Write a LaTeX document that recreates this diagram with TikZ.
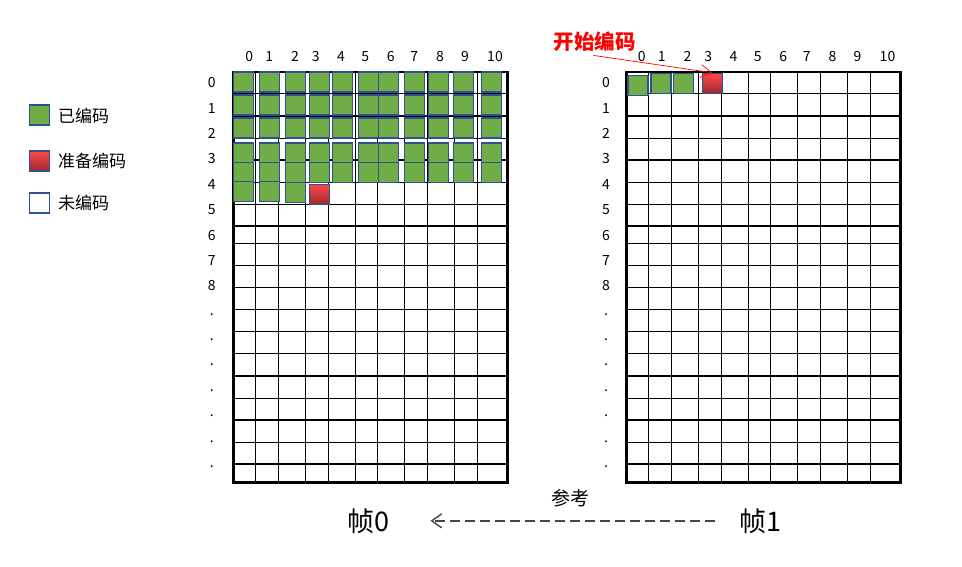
\documentclass[tikz,border=0pt]{standalone}
\usepackage{fontspec}
\setmainfont{Noto Sans CJK SC}
\usepackage{tikz}
\usetikzlibrary{arrows.meta}

\definecolor{codegreen}{HTML}{70AD47}
\definecolor{edgeblue}{HTML}{2F528F}
\definecolor{hotred}{HTML}{FF4848}
\definecolor{darkred}{HTML}{9C2A30}

\begin{document}
\begin{tikzpicture}[
  x=1pt, y=-1pt,
  every node/.style={font=\fontsize{14}{16}\selectfont},
  done/.style={draw=edgeblue, line width=1.1pt, fill=codegreen,
               minimum size=20pt, inner sep=0pt},
  ready/.style={done, top color=hotred, bottom color=darkred},
  todo/.style={done, fill=white},
  lab/.style={font=\fontsize{17}{19}\selectfont, anchor=west, inner sep=0pt},
  thingrid/.style={line width=1.2pt},
  gridframe/.style={line width=2.6pt},
]
  \useasboundingbox (0,0) rectangle (962,566);

  % Grids: frame 0 at offset 0, frame 1 at offset 393
  \foreach \ox in {0, 393} {
    \foreach \x in {22.2, 45.2, 71.8, 95.2, 121.8, 144.2, 170.8, 193.8, 220.8, 244.2}
      \draw[thingrid] (233.5+\ox+\x, 72) -- (233.5+\ox+\x, 482.5);
    \foreach \y in {93.3, 116, 138.3, 160, 182.7, 204.3, 226, 243.3, 265.7, 287.7,
                    309.3, 331.7, 353.3, 376, 398.3, 420, 442.3, 464}
      \draw[thingrid] (233.5+\ox, \y) -- (507.3+\ox, \y);
    \draw[gridframe] (233.5+\ox, 72) rectangle (507.3+\ox, 482.5);
  }

  % Column labels
  \foreach \c/\x in {0/249.3, 1/269.3, 2/295, 3/315.7, 4/341, 5/365.3,
                     6/390.7, 7/414.3, 8/440, 9/465, 10/495} {
    \node (ca\c) at (\x, 56.7) {\c};
    \node (cb\c) at (\x+392.5, 56.7) {\c};
  }

  % Row labels
  \foreach \r in {0,...,8} {
    \node (ra\r) at (211.7, 82.7+25.4*\r) {\r};
    \node (rb\r) at (606, 82.7+25.4*\r) {\r};
  }
  \foreach \k in {0,...,6} {
    \node (da\k) at (211.7, 314.3+25.4*\k) {.};
    \node (db\k) at (606, 314.3+25.4*\k) {.};
  }

  % Frame 0: coded blocks
  \foreach \c/\x in {0/243.3, 1/269.3, 2/295.3, 3/319.3, 4/342.3, 5/368.3,
                     6/388.3, 7/414.3, 8/438.3, 9/463.3, 10/491.3}
    \foreach \r/\y in {0/82, 1/105, 2/128, 3/153, 4/172.5}
      \node[done] (a\r-\c) at (\x, \y) {};
  \node[done] (a5-0) at (243.3, 191.7) {};
  \node[done] (a5-1) at (269.3, 191.7) {};
  \node[done] (a5-2) at (295.3, 192.7) {};
  \node[ready] (a5-3) at (319.7, 194.3) {};

  % Frame 1: coded blocks
  \node[done] (b0-0) at (638, 85.3) {};
  \node[done] (b0-1) at (661, 83.3) {};
  \node[done] (b0-2) at (683.3, 83.3) {};
  \node[ready] (b0-3) at (712.3, 83.3) {};

  \node[font=\fontsize{20.5}{22}\selectfont\bfseries, text=red] (start) at (594.5, 42) {开始编码};
  \draw[-{Straight Barb[length=11pt, width=13pt]}, red, line width=0.7pt]
    ([xshift=-1pt]start.south) -- (b0-3.north);

  % Legend
  \node[done] (kdone) at (39.2, 115) {};
  \node[ready] (kready) at (39.2, 161) {};
  \node[todo] (ktodo) at (39.2, 203) {};
  \node[lab] (tdone) at (58, 116) {已编码};
  \node[lab] (tready) at (58, 161) {准备编码};
  \node[lab] (ttodo) at (58, 203) {未编码};

  % Frames and reference arrow
  \node[font=\fontsize{27}{29}\selectfont] (f0) at (368, 520.8) {帧0};
  \node[font=\fontsize{27}{29}\selectfont] (f1) at (760, 520.8) {帧1};
  \draw[-{Straight Barb[length=10pt, width=14pt]}, black!72, line width=1.4pt,
        dash pattern=on 10pt off 5pt, shorten <=20pt, shorten >=38pt]
    (f1.west) -- (f0.east)
    node[pos=0.48, above=10pt, font=\fontsize{19}{21}\selectfont, text=black] (ref) {参考};
\end{tikzpicture}
\end{document}
